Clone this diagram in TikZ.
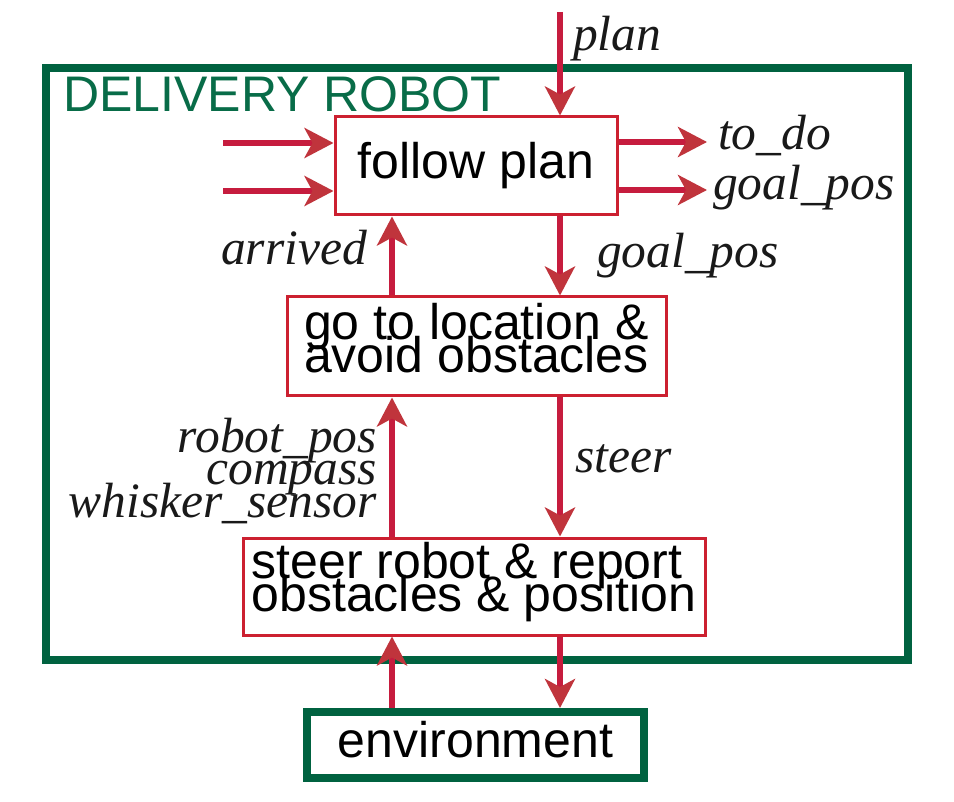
\documentclass[tikz,border=0pt]{standalone}
\usepackage{fontspec}
\setmainfont{Liberation Serif}
\newfontfamily\boxfamily{Liberation Sans}
\usetikzlibrary{arrows.meta}
\definecolor{boxred}{RGB}{204,32,48}
\definecolor{arrowred}{RGB}{198,28,62}
\definecolor{headred}{RGB}{192,52,60}
\definecolor{robotgreen}{RGB}{0,98,64}
\definecolor{titlegreen}{RGB}{8,108,72}
\newcommand{\boxtxt}{\boxfamily\fontsize{50}{32.5}\selectfont\lineskiplimit=-100pt\lineskip=0pt}
\newcommand{\labtxt}{\rmfamily\itshape\fontsize{49.5}{32.5}\selectfont\lineskiplimit=-100pt\lineskip=0pt}
\newcommand{\titletxt}{\boxfamily\fontsize{50}{52}\selectfont}
\tikzset{
  rbox/.style={draw=boxred, line width=3pt, fill=white, inner sep=0pt, font=\boxtxt, align=left},
  gbox/.style={draw=robotgreen, line width=8pt, inner sep=0pt},
  arr/.style={draw=arrowred, line width=6pt, -{Stealth[length=29pt,width=30pt,inset=8pt,color=headred]}},
  lab/.style={font=\labtxt, inner sep=0pt, text=black!90},
}
\begin{document}
\begin{tikzpicture}[x=1pt,y=-1pt]
\useasboundingbox (0,0) rectangle (954,802);
\fill[white] (0,0) rectangle (954,802);
% outer robot box
\node[gbox, minimum width=862pt, minimum height=592pt] (robot) at (477,364) {};
\node[font=\titletxt, text=titlegreen, anchor=base west, inner sep=0pt] (title) at (63,112) {DELIVERY ROBOT};
% boxes
\node[rbox, minimum width=282pt, minimum height=98pt] (follow) at (476,166) {follow plan};
\node[rbox, minimum width=379pt, minimum height=99pt, text depth=17pt] (go) at (476.5,346.5) {go to location \&\\avoid obstacles};
\node[rbox, minimum width=462pt, minimum height=97pt, text depth=19pt] (steer) at (474,586.5) {steer robot \& report\\obstacles \& position};
\node[gbox, minimum width=337pt, minimum height=66pt, font=\boxtxt, text depth=11pt] (env) at (475.5,745) {environment};
% columns and free ends
\coordinate (colL) at (392,0);
\coordinate (colR) at (560,0);
\coordinate (planin) at (560,12);
\coordinate (in1) at (223,143);
\coordinate (in2) at (223,191);
\coordinate (out1) at (707,142);
\coordinate (out2) at (707,190);
% arrows
\draw[arr] (planin) -- (planin |- follow.north);
\draw[arr] (in1) -- (in1 -| follow.west);
\draw[arr] (in2) -- (in2 -| follow.west);
\draw[arr] (out1 -| follow.east) -- (out1);
\draw[arr] (out2 -| follow.east) -- (out2);
\draw[arr] (colL |- go.north) -- (colL |- follow.south);
\draw[arr] (colR |- follow.south) -- (colR |- go.north);
\draw[arr] (colL |- steer.north) -- (colL |- go.south);
\draw[arr] (colR |- go.south) -- (colR |- steer.north);
\draw[arr] (colL |- env.north) -- (colL |- steer.south);
\draw[arr] (colR |- steer.south) -- (colR |- env.north);
% labels
\node[lab, anchor=base west] (lplan) at (573,51) {plan};
\node[lab, anchor=base west] (ltodo) at (718,150) {to\_do};
\node[lab, anchor=base west] (lgoalA) at (713,200) {goal\_pos};
\node[lab, anchor=base east] (larr) at (367,265) {arrived};
\node[lab, anchor=base west] (lgoalB) at (597,268) {goal\_pos};
\node[lab, anchor=base east, align=right] (lsens) at (377,517) {robot\_pos\\compass\\whisker\_sensor};
\node[lab, anchor=base west] (lsteer) at (575,472) {steer};
\end{tikzpicture}
\end{document}
